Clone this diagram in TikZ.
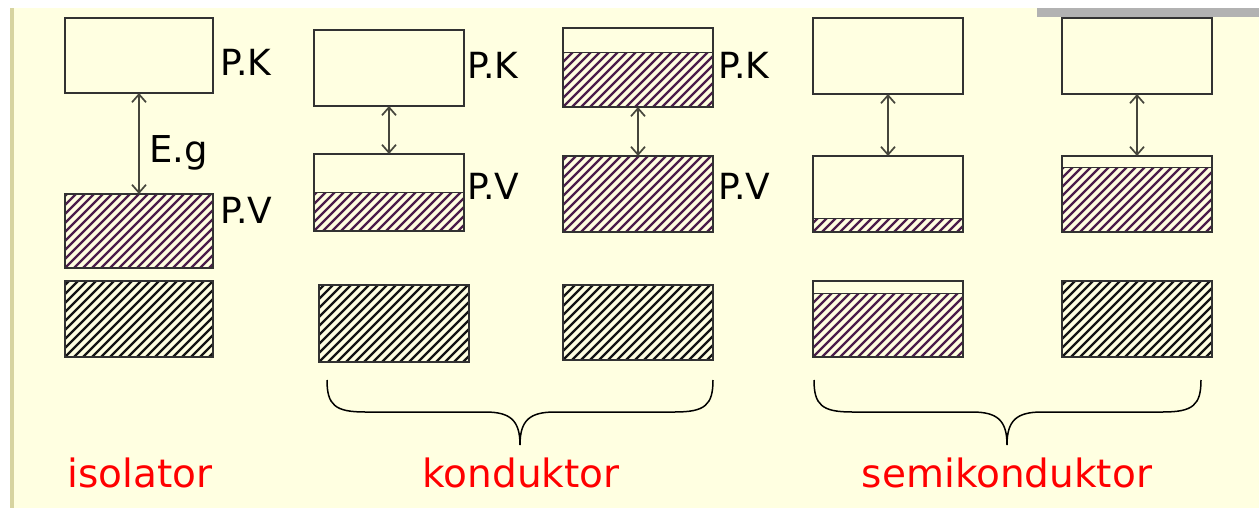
\documentclass[tikz,border=0pt]{standalone}
\usepackage{fontspec}
\setmainfont{DejaVu Sans}
\usetikzlibrary{arrows.meta}
\definecolor{bg}{RGB}{255,255,225}
\definecolor{hatchp}{RGB}{75,30,75}
\definecolor{hatchk}{RGB}{20,20,20}
\definecolor{edge}{RGB}{50,50,50}
\definecolor{arrowc}{RGB}{70,70,60}
\definecolor{khaki}{RGB}{215,212,160}
\definecolor{barg}{RGB}{178,178,178}
\begin{document}
\begin{tikzpicture}[x=1pt,y=-1pt,
  band/.style={draw=edge,line width=2pt,fill=bg,rectangle,inner sep=0pt,outer sep=0pt,
    minimum width=150pt,minimum height=76pt,anchor=north west},
  hatchpart/.style 2 args={path picture={
    \begin{scope}
    \clip (path picture bounding box.south west) rectangle ([yshift=#1]path picture bounding box.south east);
    \foreach \i in {-99,-90,...,160}
      \draw[#2,line width=2.3pt] ([xshift=\i pt]path picture bounding box.south west) -- ++(45:240pt);
    \end{scope}
    \draw[edge,line width=1pt] ([yshift=#1]path picture bounding box.south west) -- ([yshift=#1]path picture bounding box.south east);}},
  fullp/.style={hatchpart={200pt}{hatchp}},
  fullk/.style={hatchpart={200pt}{hatchk}},
  gaparrow/.style={{Straight Barb[length=8pt,width=14pt]}-{Straight Barb[length=8pt,width=14pt]},line width=1.7pt,draw=arrowc},
  lbl/.style={font=\fontsize{36}{40}\selectfont,inner sep=0pt,anchor=west},
  redlbl/.style={font=\fontsize{39}{46}\selectfont,text=red,inner sep=0pt,anchor=base},
  bracestyle/.style={draw=black,line width=1.5pt}]
\useasboundingbox (0,0) rectangle (1259,516);
\fill[white] (0,0) rectangle (1259,516);
\fill[bg] (12,8) rectangle (1259,508);
\fill[khaki] (10,8) rectangle (14,508);
\fill[barg] (1037,8) rectangle (1259,17);

% column 1 (isolator)
\node[band,minimum width=148pt,minimum height=75pt] (pk1) at (65,18) {};
\node[band,minimum width=148pt,minimum height=74pt,fullp] (pv1) at (65,194) {};
\node[band,minimum width=148pt,minimum height=76pt,fullk] (lo1) at (65,281) {};
\draw[gaparrow] (pk1.south) -- (pv1.north);
\node[lbl] (lpk1) at (220,62) {P.K};
\node[lbl,anchor=base west,font=\fontsize{37}{40}\selectfont] (leg) at (149,163) {E.g};
\node[lbl] (lpv1) at (220,210) {P.V};

% column 2
\node[band] (pk2) at (314,30) {};
\node[band,minimum height=77pt,hatchpart={38pt}{hatchp}] (pv2) at (314,154) {};
\node[band,minimum height=77pt,fullk] (lo2) at (319,285) {};
\draw[gaparrow] (pk2.south) -- (pv2.north);
\node[lbl] (lpk2) at (467,65) {P.K};
\node[lbl] (lpv2) at (467,186) {P.V};

% column 3
\node[band,minimum height=79pt,hatchpart={54pt}{hatchp}] (pk3) at (563,28) {};
\node[band,fullp] (pv3) at (563,156) {};
\node[band,minimum height=75pt,fullk] (lo3) at (563,285) {};
\draw[gaparrow] (pk3.south) -- (pv3.north);
\node[lbl] (lpk3) at (718,65) {P.K};
\node[lbl] (lpv3) at (718,186) {P.V};

% column 4
\node[band] (pk4) at (813,18) {};
\node[band,hatchpart={14pt}{hatchp}] (pv4) at (813,156) {};
\node[band,hatchpart={64pt}{hatchp}] (lo4) at (813,281) {};
\draw[gaparrow] (pk4.south) -- (pv4.north);

% column 5
\node[band] (pk5) at (1062,18) {};
\node[band,hatchpart={64pt}{hatchp}] (pv5) at (1062,156) {};
\node[band,fullk] (lo5) at (1062,281) {};
\draw[gaparrow] (pk5.south) -- (pv5.north);

% braces
\coordinate (b1l) at (327,380);
\coordinate (b1t) at (520,445);
\coordinate (b1r) at (713,380);
\draw[bracestyle] (b1l) .. controls (327,405) and (335,412) .. (365,412) -- (485,412)
  .. controls (510,412) and (520,420) .. (b1t)
  .. controls (520,420) and (530,412) .. (555,412) -- (675,412)
  .. controls (705,412) and (713,405) .. (b1r);
\coordinate (b2l) at (814,380);
\coordinate (b2t) at (1007,445);
\coordinate (b2r) at (1201,380);
\draw[bracestyle] (b2l) .. controls (814,405) and (822,412) .. (852,412) -- (972,412)
  .. controls (997,412) and (1007,420) .. (b2t)
  .. controls (1007,420) and (1017,412) .. (1042,412) -- (1163,412)
  .. controls (1193,412) and (1201,405) .. (b2r);

% category labels
\node[redlbl] (tiso) at (140,487) {isolator};
\node[redlbl] (tkon) at (521,487) {konduktor};
\node[redlbl] (tsemi) at (1007,487) {semikonduktor};
\end{tikzpicture}
\end{document}
